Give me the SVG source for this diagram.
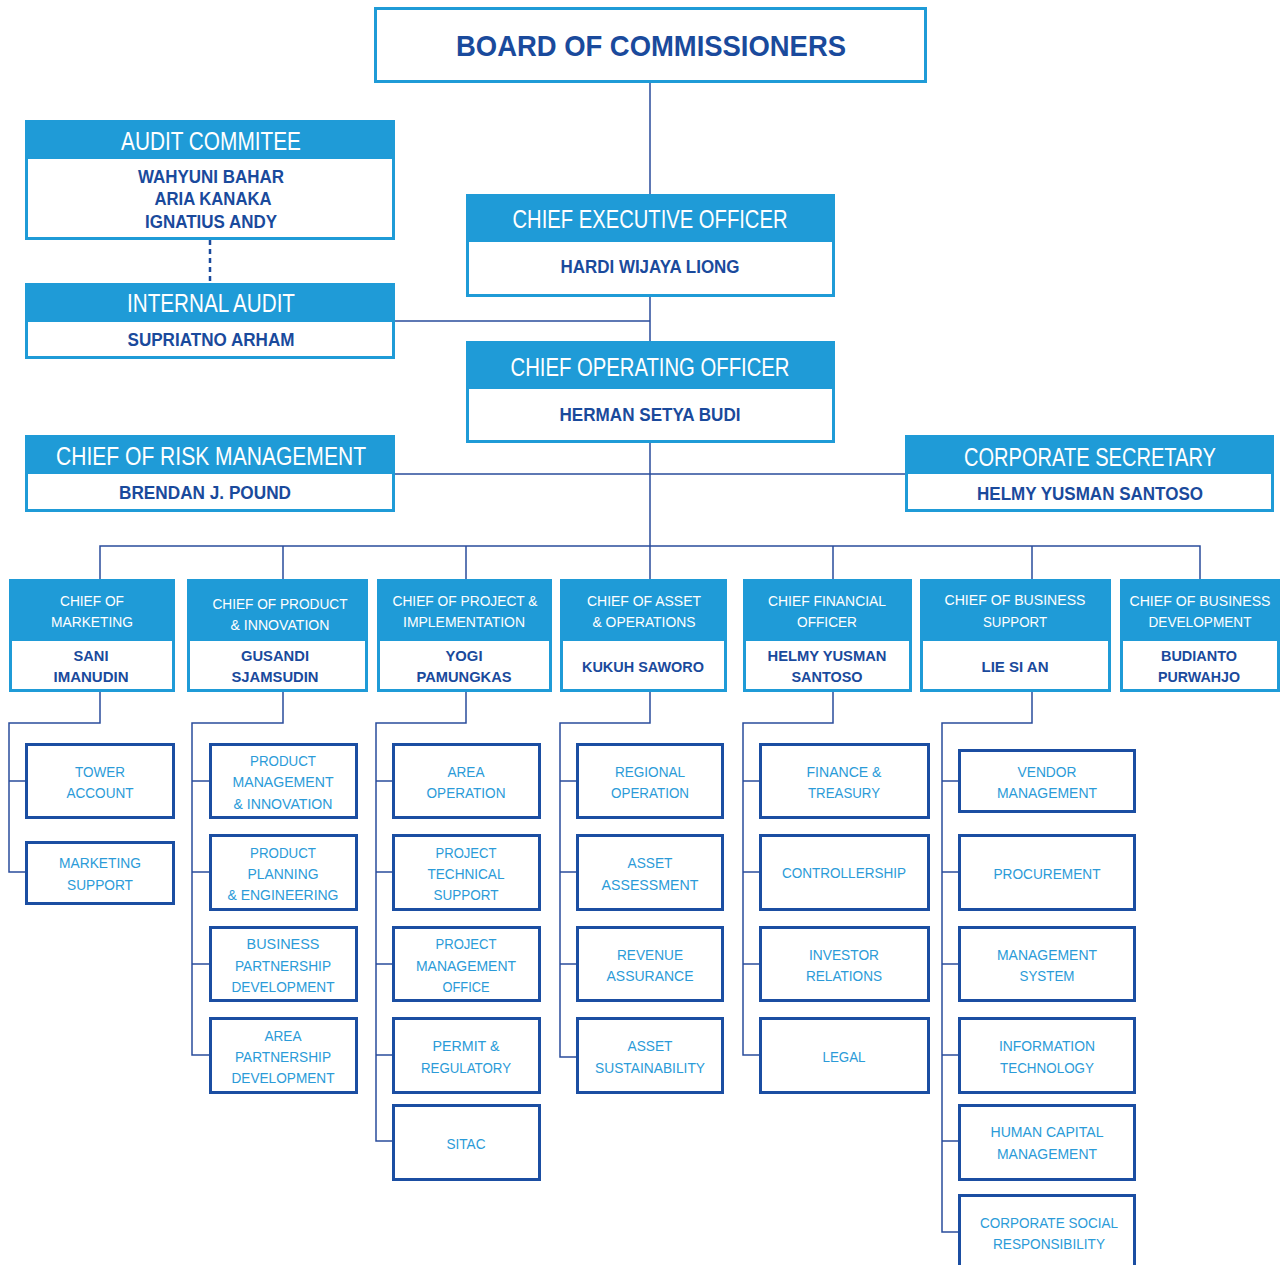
<svg xmlns="http://www.w3.org/2000/svg" width="1282" height="1265" viewBox="0 0 1282 1265">
<style>
text{font-family:"Liberation Sans",Arial,sans-serif;text-anchor:middle}
.box{fill:#fff;stroke:#1F9BD7;stroke-width:3}
.hd{fill:#1F9BD7}
.sub{fill:#fff;stroke:#1B4EA2;stroke-width:3}
.t-big{font-size:30px;font-weight:bold;fill:#1A4A9C}
.t-hd{font-size:25px;fill:#fff}
.t-nm{font-size:18px;font-weight:bold;fill:#1A4A9C}
.t-chd{font-size:15.5px;fill:#fff}
.t-cnm{font-size:15.5px;font-weight:bold;fill:#1A4A9C}
.t-sub{font-size:15.5px;fill:#2B9BD8}
.ln{fill:none;stroke:#2A4C9C;stroke-width:1.5}
.dash{fill:none;stroke:#1A4A9C;stroke-width:2.5;stroke-dasharray:5 4}
</style>

<g id="connectors">
<path class="ln" d="M650,82V195M650,296V341M650,442V579M394,321H650M394,474H905M100,579V546H1200V579M283,546V579M466,546V579M833,546V579M1032,546V579"/>
<path class="dash" d="M210,240V283"/>
<path class="ln" d="M100,691V723H9V872H26M9,781H26"/>
<path class="ln" d="M283,691V723H192V1055H210M192,781H210M192,872H210M192,964H210"/>
<path class="ln" d="M466,691V723H376V1141H393M376,781H393M376,872H393M376,964H393M376,1055H393"/>
<path class="ln" d="M650,691V723H560V1057H577M560,781H577M560,872H577M560,964H577"/>
<path class="ln" d="M833,691V723H743V1055H760M743,781H760M743,872H760M743,964H760"/>
<path class="ln" d="M1032,691V723H942V1232H959M942,781H959M942,872H959M942,964H959M942,1055H959M942,1141H959"/>
</g>

<g id="board">
<rect class="box" x="375.5" y="8.5" width="550" height="73"/>
<text class="t-big" x="651" y="56" textLength="390" lengthAdjust="spacingAndGlyphs">BOARD OF COMMISSIONERS</text>
</g>

<g id="audit-committee">
<rect class="box" x="26.5" y="121.5" width="367" height="117"/>
<rect class="hd" x="25" y="120" width="370" height="39"/>
<text class="t-hd" x="211" y="150" textLength="180" lengthAdjust="spacingAndGlyphs">AUDIT COMMITEE</text>
<text class="t-nm" x="211" y="183" textLength="146" lengthAdjust="spacingAndGlyphs">WAHYUNI BAHAR</text>
<text class="t-nm" x="213" y="205" textLength="117" lengthAdjust="spacingAndGlyphs">ARIA KANAKA</text>
<text class="t-nm" x="211" y="228" textLength="132" lengthAdjust="spacingAndGlyphs">IGNATIUS ANDY</text>
</g>

<g id="internal-audit">
<rect class="box" x="26.5" y="284.5" width="367" height="73"/>
<rect class="hd" x="25" y="283" width="370" height="39"/>
<text class="t-hd" x="211" y="312" textLength="168" lengthAdjust="spacingAndGlyphs">INTERNAL AUDIT</text>
<text class="t-nm" x="211" y="346" textLength="167" lengthAdjust="spacingAndGlyphs">SUPRIATNO ARHAM</text>
</g>

<g id="ceo">
<rect class="box" x="467.5" y="195.5" width="366" height="100"/>
<rect class="hd" x="466" y="194" width="369" height="48"/>
<text class="t-hd" x="650" y="228" textLength="275" lengthAdjust="spacingAndGlyphs">CHIEF EXECUTIVE OFFICER</text>
<text class="t-nm" x="650" y="273" textLength="179" lengthAdjust="spacingAndGlyphs">HARDI WIJAYA LIONG</text>
</g>

<g id="coo">
<rect class="box" x="467.5" y="342.5" width="366" height="99"/>
<rect class="hd" x="466" y="341" width="369" height="48"/>
<text class="t-hd" x="650" y="376" textLength="279" lengthAdjust="spacingAndGlyphs">CHIEF OPERATING OFFICER</text>
<text class="t-nm" x="650" y="421" textLength="181" lengthAdjust="spacingAndGlyphs">HERMAN SETYA BUDI</text>
</g>

<g id="risk">
<rect class="box" x="26.5" y="436.5" width="367" height="74"/>
<rect class="hd" x="25" y="435" width="370" height="39"/>
<text class="t-hd" x="211" y="465" textLength="310" lengthAdjust="spacingAndGlyphs">CHIEF OF RISK MANAGEMENT</text>
<text class="t-nm" x="205" y="499" textLength="172" lengthAdjust="spacingAndGlyphs">BRENDAN J. POUND</text>
</g>

<g id="corpsec">
<rect class="box" x="906.5" y="436.5" width="366" height="74"/>
<rect class="hd" x="905" y="435" width="369" height="39"/>
<text class="t-hd" x="1090" y="466" textLength="252" lengthAdjust="spacingAndGlyphs">CORPORATE SECRETARY</text>
<text class="t-nm" x="1090" y="500" textLength="226" lengthAdjust="spacingAndGlyphs">HELMY YUSMAN SANTOSO</text>
</g>

<g id="c-marketing">
<rect class="box" x="10.5" y="580.5" width="163" height="110"/>
<rect class="hd" x="9" y="579" width="166" height="62"/>
<text class="t-chd" x="92" y="606" textLength="64" lengthAdjust="spacingAndGlyphs">CHIEF OF</text>
<text class="t-chd" x="92" y="627" textLength="82" lengthAdjust="spacingAndGlyphs">MARKETING</text>
<text class="t-cnm" x="91" y="661" textLength="35" lengthAdjust="spacingAndGlyphs">SANI</text>
<text class="t-cnm" x="91" y="682" textLength="75" lengthAdjust="spacingAndGlyphs">IMANUDIN</text>
</g>

<g id="c-product">
<rect class="box" x="188.5" y="580.5" width="178" height="110"/>
<rect class="hd" x="187" y="579" width="181" height="62"/>
<text class="t-chd" x="280" y="609" textLength="135" lengthAdjust="spacingAndGlyphs">CHIEF OF PRODUCT</text>
<text class="t-chd" x="280" y="630" textLength="99" lengthAdjust="spacingAndGlyphs">&amp; INNOVATION</text>
<text class="t-cnm" x="275" y="661" textLength="68" lengthAdjust="spacingAndGlyphs">GUSANDI</text>
<text class="t-cnm" x="275" y="682" textLength="87" lengthAdjust="spacingAndGlyphs">SJAMSUDIN</text>
</g>

<g id="c-project">
<rect class="box" x="378.5" y="580.5" width="172" height="110"/>
<rect class="hd" x="377" y="579" width="175" height="62"/>
<text class="t-chd" x="465" y="606" textLength="145" lengthAdjust="spacingAndGlyphs">CHIEF OF PROJECT &amp;</text>
<text class="t-chd" x="464" y="627" textLength="122" lengthAdjust="spacingAndGlyphs">IMPLEMENTATION</text>
<text class="t-cnm" x="464" y="661" textLength="37" lengthAdjust="spacingAndGlyphs">YOGI</text>
<text class="t-cnm" x="464" y="682" textLength="95" lengthAdjust="spacingAndGlyphs">PAMUNGKAS</text>
</g>

<g id="c-asset">
<rect class="box" x="561.5" y="580.5" width="164" height="110"/>
<rect class="hd" x="560" y="579" width="167" height="62"/>
<text class="t-chd" x="644" y="606" textLength="114" lengthAdjust="spacingAndGlyphs">CHIEF OF ASSET</text>
<text class="t-chd" x="644" y="627" textLength="103" lengthAdjust="spacingAndGlyphs">&amp; OPERATIONS</text>
<text class="t-cnm" x="643" y="672" textLength="122" lengthAdjust="spacingAndGlyphs">KUKUH SAWORO</text>
</g>

<g id="c-cfo">
<rect class="box" x="744.5" y="580.5" width="166" height="110"/>
<rect class="hd" x="743" y="579" width="169" height="62"/>
<text class="t-chd" x="827" y="606" textLength="118" lengthAdjust="spacingAndGlyphs">CHIEF FINANCIAL</text>
<text class="t-chd" x="827" y="627" textLength="60" lengthAdjust="spacingAndGlyphs">OFFICER</text>
<text class="t-cnm" x="827" y="661" textLength="119" lengthAdjust="spacingAndGlyphs">HELMY YUSMAN</text>
<text class="t-cnm" x="827" y="682" textLength="71" lengthAdjust="spacingAndGlyphs">SANTOSO</text>
</g>

<g id="c-bsupport">
<rect class="box" x="921.5" y="580.5" width="188" height="110"/>
<rect class="hd" x="920" y="579" width="191" height="62"/>
<text class="t-chd" x="1015" y="605" textLength="141" lengthAdjust="spacingAndGlyphs">CHIEF OF BUSINESS</text>
<text class="t-chd" x="1015" y="627" textLength="64" lengthAdjust="spacingAndGlyphs">SUPPORT</text>
<text class="t-cnm" x="1015" y="672" textLength="67" lengthAdjust="spacingAndGlyphs">LIE SI AN</text>
</g>

<g id="c-bdev">
<rect class="box" x="1121.5" y="580.5" width="157" height="110"/>
<rect class="hd" x="1120" y="579" width="160" height="62"/>
<text class="t-chd" x="1200" y="606" textLength="141" lengthAdjust="spacingAndGlyphs">CHIEF OF BUSINESS</text>
<text class="t-chd" x="1200" y="627" textLength="103" lengthAdjust="spacingAndGlyphs">DEVELOPMENT</text>
<text class="t-cnm" x="1199" y="661" textLength="76" lengthAdjust="spacingAndGlyphs">BUDIANTO</text>
<text class="t-cnm" x="1199" y="682" textLength="82" lengthAdjust="spacingAndGlyphs">PURWAHJO</text>
</g>

<g id="s-tower"><rect class="sub" x="26.5" y="744.5" width="147" height="73"/>
<text class="t-sub" x="100" y="777" textLength="50" lengthAdjust="spacingAndGlyphs">TOWER</text>
<text class="t-sub" x="100" y="798" textLength="67" lengthAdjust="spacingAndGlyphs">ACCOUNT</text></g>
<g id="s-mktsupport"><rect class="sub" x="26.5" y="842.5" width="147" height="61"/>
<text class="t-sub" x="100" y="868" textLength="82" lengthAdjust="spacingAndGlyphs">MARKETING</text>
<text class="t-sub" x="100" y="890" textLength="66" lengthAdjust="spacingAndGlyphs">SUPPORT</text></g>

<g id="s-pmi"><rect class="sub" x="210.5" y="744.5" width="146" height="73"/>
<text class="t-sub" x="283" y="766" textLength="66" lengthAdjust="spacingAndGlyphs">PRODUCT</text>
<text class="t-sub" x="283" y="787" textLength="101" lengthAdjust="spacingAndGlyphs">MANAGEMENT</text>
<text class="t-sub" x="283" y="809" textLength="99" lengthAdjust="spacingAndGlyphs">&amp; INNOVATION</text></g>
<g id="s-ppe"><rect class="sub" x="210.5" y="835.5" width="146" height="74"/>
<text class="t-sub" x="283" y="858" textLength="66" lengthAdjust="spacingAndGlyphs">PRODUCT</text>
<text class="t-sub" x="283" y="879" textLength="71" lengthAdjust="spacingAndGlyphs">PLANNING</text>
<text class="t-sub" x="283" y="900" textLength="111" lengthAdjust="spacingAndGlyphs">&amp; ENGINEERING</text></g>
<g id="s-bpd"><rect class="sub" x="210.5" y="927.5" width="146" height="73"/>
<text class="t-sub" x="283" y="949" textLength="73" lengthAdjust="spacingAndGlyphs">BUSINESS</text>
<text class="t-sub" x="283" y="971" textLength="96" lengthAdjust="spacingAndGlyphs">PARTNERSHIP</text>
<text class="t-sub" x="283" y="992" textLength="103" lengthAdjust="spacingAndGlyphs">DEVELOPMENT</text></g>
<g id="s-apd"><rect class="sub" x="210.5" y="1018.5" width="146" height="74"/>
<text class="t-sub" x="283" y="1041" textLength="37" lengthAdjust="spacingAndGlyphs">AREA</text>
<text class="t-sub" x="283" y="1062" textLength="96" lengthAdjust="spacingAndGlyphs">PARTNERSHIP</text>
<text class="t-sub" x="283" y="1083" textLength="103" lengthAdjust="spacingAndGlyphs">DEVELOPMENT</text></g>

<g id="s-areaop"><rect class="sub" x="393.5" y="744.5" width="146" height="73"/>
<text class="t-sub" x="466" y="777" textLength="37" lengthAdjust="spacingAndGlyphs">AREA</text>
<text class="t-sub" x="466" y="798" textLength="79" lengthAdjust="spacingAndGlyphs">OPERATION</text></g>
<g id="s-pts"><rect class="sub" x="393.5" y="835.5" width="146" height="74"/>
<text class="t-sub" x="466" y="858" textLength="61" lengthAdjust="spacingAndGlyphs">PROJECT</text>
<text class="t-sub" x="466" y="879" textLength="77" lengthAdjust="spacingAndGlyphs">TECHNICAL</text>
<text class="t-sub" x="466" y="900" textLength="65" lengthAdjust="spacingAndGlyphs">SUPPORT</text></g>
<g id="s-pmo"><rect class="sub" x="393.5" y="927.5" width="146" height="73"/>
<text class="t-sub" x="466" y="949" textLength="61" lengthAdjust="spacingAndGlyphs">PROJECT</text>
<text class="t-sub" x="466" y="971" textLength="100" lengthAdjust="spacingAndGlyphs">MANAGEMENT</text>
<text class="t-sub" x="466" y="992" textLength="47" lengthAdjust="spacingAndGlyphs">OFFICE</text></g>
<g id="s-permit"><rect class="sub" x="393.5" y="1018.5" width="146" height="74"/>
<text class="t-sub" x="466" y="1051" textLength="67" lengthAdjust="spacingAndGlyphs">PERMIT &amp;</text>
<text class="t-sub" x="466" y="1073" textLength="90" lengthAdjust="spacingAndGlyphs">REGULATORY</text></g>
<g id="s-sitac"><rect class="sub" x="393.5" y="1105.5" width="146" height="74"/>
<text class="t-sub" x="466" y="1149" textLength="39" lengthAdjust="spacingAndGlyphs">SITAC</text></g>

<g id="s-regop"><rect class="sub" x="577.5" y="744.5" width="145" height="73"/>
<text class="t-sub" x="650" y="777" textLength="70" lengthAdjust="spacingAndGlyphs">REGIONAL</text>
<text class="t-sub" x="650" y="798" textLength="78" lengthAdjust="spacingAndGlyphs">OPERATION</text></g>
<g id="s-assess"><rect class="sub" x="577.5" y="835.5" width="145" height="74"/>
<text class="t-sub" x="650" y="868" textLength="45" lengthAdjust="spacingAndGlyphs">ASSET</text>
<text class="t-sub" x="650" y="890" textLength="97" lengthAdjust="spacingAndGlyphs">ASSESSMENT</text></g>
<g id="s-revenue"><rect class="sub" x="577.5" y="927.5" width="145" height="73"/>
<text class="t-sub" x="650" y="960" textLength="66" lengthAdjust="spacingAndGlyphs">REVENUE</text>
<text class="t-sub" x="650" y="981" textLength="87" lengthAdjust="spacingAndGlyphs">ASSURANCE</text></g>
<g id="s-sustain"><rect class="sub" x="577.5" y="1018.5" width="145" height="74"/>
<text class="t-sub" x="650" y="1051" textLength="45" lengthAdjust="spacingAndGlyphs">ASSET</text>
<text class="t-sub" x="650" y="1073" textLength="110" lengthAdjust="spacingAndGlyphs">SUSTAINABILITY</text></g>

<g id="s-finance"><rect class="sub" x="760.5" y="744.5" width="168" height="73"/>
<text class="t-sub" x="844" y="777" textLength="75" lengthAdjust="spacingAndGlyphs">FINANCE &amp;</text>
<text class="t-sub" x="844" y="798" textLength="72" lengthAdjust="spacingAndGlyphs">TREASURY</text></g>
<g id="s-control"><rect class="sub" x="760.5" y="835.5" width="168" height="74"/>
<text class="t-sub" x="844" y="878" textLength="124" lengthAdjust="spacingAndGlyphs">CONTROLLERSHIP</text></g>
<g id="s-investor"><rect class="sub" x="760.5" y="927.5" width="168" height="73"/>
<text class="t-sub" x="844" y="960" textLength="70" lengthAdjust="spacingAndGlyphs">INVESTOR</text>
<text class="t-sub" x="844" y="981" textLength="76" lengthAdjust="spacingAndGlyphs">RELATIONS</text></g>
<g id="s-legal"><rect class="sub" x="760.5" y="1018.5" width="168" height="74"/>
<text class="t-sub" x="844" y="1062" textLength="43" lengthAdjust="spacingAndGlyphs">LEGAL</text></g>

<g id="s-vendor"><rect class="sub" x="959.5" y="750.5" width="175" height="61"/>
<text class="t-sub" x="1047" y="777" textLength="59" lengthAdjust="spacingAndGlyphs">VENDOR</text>
<text class="t-sub" x="1047" y="798" textLength="100" lengthAdjust="spacingAndGlyphs">MANAGEMENT</text></g>
<g id="s-procure"><rect class="sub" x="959.5" y="835.5" width="175" height="74"/>
<text class="t-sub" x="1047" y="879" textLength="107" lengthAdjust="spacingAndGlyphs">PROCUREMENT</text></g>
<g id="s-mgmtsys"><rect class="sub" x="959.5" y="927.5" width="175" height="73"/>
<text class="t-sub" x="1047" y="960" textLength="100" lengthAdjust="spacingAndGlyphs">MANAGEMENT</text>
<text class="t-sub" x="1047" y="981" textLength="55" lengthAdjust="spacingAndGlyphs">SYSTEM</text></g>
<g id="s-it"><rect class="sub" x="959.5" y="1018.5" width="175" height="74"/>
<text class="t-sub" x="1047" y="1051" textLength="96" lengthAdjust="spacingAndGlyphs">INFORMATION</text>
<text class="t-sub" x="1047" y="1073" textLength="94" lengthAdjust="spacingAndGlyphs">TECHNOLOGY</text></g>
<g id="s-hcm"><rect class="sub" x="959.5" y="1105.5" width="175" height="74"/>
<text class="t-sub" x="1047" y="1137" textLength="113" lengthAdjust="spacingAndGlyphs">HUMAN CAPITAL</text>
<text class="t-sub" x="1047" y="1159" textLength="100" lengthAdjust="spacingAndGlyphs">MANAGEMENT</text></g>
<g id="s-csr"><rect class="sub" x="959.5" y="1195.5" width="175" height="80"/>
<text class="t-sub" x="1049" y="1228" textLength="138" lengthAdjust="spacingAndGlyphs">CORPORATE SOCIAL</text>
<text class="t-sub" x="1049" y="1249" textLength="112" lengthAdjust="spacingAndGlyphs">RESPONSIBILITY</text></g>
</svg>
